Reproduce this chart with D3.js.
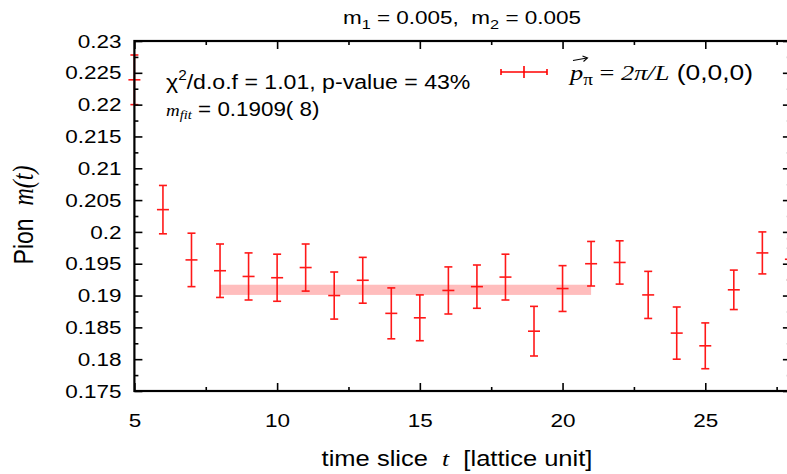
<!DOCTYPE html>
<html>
<head>
<meta charset="utf-8">
<script src="https://cdn.jsdelivr.net/npm/d3@7"></script>
<style>
  body { margin: 0; background: #fff; }
  svg { display: block; }
  text { white-space: pre; }
</style>
</head>
<body>
<svg id="chart" width="787" height="474"></svg>
<script>
// time slices and effective pion mass with errors
var tValues = [5, 6, 7, 8, 9, 10, 11, 12, 13, 14, 15, 16, 17, 18, 19, 20, 21, 22, 23, 24, 25, 26, 27, 28];
var mValues = [0.2239, 0.2035, 0.1956, 0.1939, 0.1930, 0.1928, 0.1944, 0.1900, 0.1924, 0.1872, 0.1865, 0.1908,
               0.1914, 0.1929, 0.1844, 0.1911, 0.1950, 0.1952, 0.1901, 0.1841, 0.1821, 0.1909, 0.1967, 0.1957];
var mErrors = [0.0039, 0.0038, 0.0042, 0.0042, 0.0037, 0.0037, 0.0037, 0.0037, 0.0036, 0.0040, 0.0036, 0.0037,
               0.0034, 0.0036, 0.0039, 0.0036, 0.0035, 0.0034, 0.0037, 0.0041, 0.0036, 0.0031, 0.0033, 0.0032];

// constant fit
var fitRange = [8, 21];
var fitValue = 0.1909;
var fitError = 0.0008;

// ticks
var xTicks = [5, 10, 15, 20, 25];
var xMinorTicks = [7.5, 12.5, 17.5, 22.5, 27.5];
var yTicks = [0.175, 0.18, 0.185, 0.19, 0.195, 0.2, 0.205, 0.21, 0.215, 0.22, 0.225, 0.23];
var yMinorTicks = [0.1775, 0.1825, 0.1875, 0.1925, 0.1975, 0.2025, 0.2075, 0.2125, 0.2175, 0.2225, 0.2275];

(function () {

    var data = tValues.map(function (t, i) {
        return {t: t, m: mValues[i], err: mErrors[i]};
    });

    var svg = d3.select("#chart");
    var pLeft = 134.4, pRight = 790.9, pTop = 41, pBottom = 391;
    var sx = 1.25; // horizontal stretch of text in the original

    var x = d3.scaleLinear().domain([5, 28]).range([pLeft, pRight]);
    var y = d3.scaleLinear().domain([0.175, 0.23]).range([pBottom, pTop]);

    var sans = "'Liberation Sans', Arial, Helvetica, sans-serif";
    var serif = "'Liberation Serif', 'Times New Roman', serif";

    // fit band
    svg.append("rect")
        .attr("x", x(fitRange[0]))
        .attr("y", y(fitValue + fitError))
        .attr("width", x(fitRange[1]) - x(fitRange[0]))
        .attr("height", y(fitValue - fitError) - y(fitValue + fitError))
        .style("fill", "#ffbdbd");

    // error bars
    var red = "#ff0000";
    var capW = 4, markW = 6;
    var pts = svg.selectAll(".pt").data(data).enter().append("g")
        .classed("pt", true)
        .style("stroke", red).style("stroke-width", 1.6).style("opacity", 0.9);

    pts.append("line")
        .attr("x1", function (d) { return x(d.t); })
        .attr("x2", function (d) { return x(d.t); })
        .attr("y1", function (d) { return y(d.m - d.err); })
        .attr("y2", function (d) { return y(d.m + d.err); });
    pts.append("line")
        .attr("x1", function (d) { return x(d.t) - capW; })
        .attr("x2", function (d) { return x(d.t) + capW; })
        .attr("y1", function (d) { return y(d.m + d.err); })
        .attr("y2", function (d) { return y(d.m + d.err); });
    pts.append("line")
        .attr("x1", function (d) { return x(d.t) - capW; })
        .attr("x2", function (d) { return x(d.t) + capW; })
        .attr("y1", function (d) { return y(d.m - d.err); })
        .attr("y2", function (d) { return y(d.m - d.err); });
    pts.append("line")
        .attr("x1", function (d) { return x(d.t) - markW; })
        .attr("x2", function (d) { return x(d.t) + markW; })
        .attr("y1", function (d) { return y(d.m); })
        .attr("y2", function (d) { return y(d.m); });

    // axes (ticks point inwards on all four sides)
    function styleAxis(g) {
        g.select(".domain").remove();
        g.selectAll("line").style("stroke", "#000").style("stroke-width", 1.6);
    }

    svg.append("g").attr("transform", "translate(" + pLeft + ",0)")
        .call(d3.axisLeft(y).tickValues(yTicks).tickSizeInner(-8).tickSizeOuter(0).tickPadding(13).tickFormat(function (d) { return String(d); }))
        .call(styleAxis)
        .call(function (g) {
            g.selectAll("text")
                .attr("x", -13 / sx)
                .attr("dy", "0.34em")
                .attr("transform", "scale(" + sx + ",1)")
                .style("font", "18px " + sans)
                .style("fill", "#000");
        });
    svg.append("g").attr("transform", "translate(" + pLeft + ",0)")
        .call(d3.axisLeft(y).tickValues(yMinorTicks).tickSizeInner(-4).tickSizeOuter(0).tickFormat(""))
        .call(styleAxis);

    svg.append("g").attr("transform", "translate(" + pRight + ",0)")
        .call(d3.axisRight(y).tickValues(yTicks).tickSizeInner(-8).tickSizeOuter(0).tickFormat(""))
        .call(styleAxis);
    svg.append("g").attr("transform", "translate(" + pRight + ",0)")
        .call(d3.axisRight(y).tickValues(yMinorTicks).tickSizeInner(-4).tickSizeOuter(0).tickFormat(""))
        .call(styleAxis);

    svg.append("g").attr("transform", "translate(0," + pBottom + ")")
        .call(d3.axisBottom(x).tickValues(xTicks).tickSizeInner(-8).tickSizeOuter(0).tickFormat(d3.format("d")))
        .call(styleAxis)
        .call(function (g) {
            g.selectAll("text")
                .attr("y", 36)
                .attr("dy", 0)
                .attr("transform", "scale(" + sx + ",1)")
                .style("font", "18px " + sans)
                .style("fill", "#000");
        });
    svg.append("g").attr("transform", "translate(0," + pBottom + ")")
        .call(d3.axisBottom(x).tickValues(xMinorTicks).tickSizeInner(-4).tickSizeOuter(0).tickFormat(""))
        .call(styleAxis);

    svg.append("g").attr("transform", "translate(0," + pTop + ")")
        .call(d3.axisTop(x).tickValues(xTicks).tickSizeInner(-8).tickSizeOuter(0).tickFormat(""))
        .call(styleAxis);
    svg.append("g").attr("transform", "translate(0," + pTop + ")")
        .call(d3.axisTop(x).tickValues(xMinorTicks).tickSizeInner(-4).tickSizeOuter(0).tickFormat(""))
        .call(styleAxis);

    // frame, drawn over the error bars
    svg.append("rect")
        .attr("x", pLeft).attr("y", pTop)
        .attr("width", pRight - pLeft).attr("height", pBottom - pTop)
        .style("fill", "none").style("stroke", "#000").style("stroke-width", 2.2);

    // helper for stretched text
    function addText(px, py, scaleX) {
        return svg.append("text")
            .attr("transform", "translate(" + px + "," + py + ") scale(" + scaleX + ",1)")
            .style("fill", "#000");
    }

    // title
    var title = addText(462, 24, sx).style("font", "18px " + sans).attr("text-anchor", "middle");
    title.append("tspan").text("m");
    title.append("tspan").attr("dy", 5).style("font-size", "13px").text("1");
    title.append("tspan").attr("dy", -5).text(" = 0.005,  m");
    title.append("tspan").attr("dy", 5).style("font-size", "13px").text("2");
    title.append("tspan").attr("dy", -5).text(" = 0.005");

    // chi2 annotation
    var chi = addText(166, 89, 1.1).style("font", "21px " + sans);
    chi.append("tspan").text("\u03c7");
    chi.append("tspan").attr("dy", -9).style("font-size", "14px").text("2");
    chi.append("tspan").attr("dy", 9).text("/d.o.f = 1.01, p-value = 43%");

    var mfit = addText(166, 116, 1.12).style("font", "20px " + sans);
    mfit.append("tspan").style("font-family", serif).style("font-style", "italic").style("font-size", "17px").text("m");
    mfit.append("tspan").attr("dy", 3).style("font-family", serif).style("font-style", "italic").style("font-size", "13px").text("fit");
    mfit.append("tspan").attr("dy", -3).text(" = 0.1909( 8)");

    // legend sample
    var lg = svg.append("g").style("stroke", red).style("stroke-width", 1.6);
    lg.append("line").attr("x1", 501).attr("x2", 547).attr("y1", 72).attr("y2", 72);
    lg.append("line").attr("x1", 501).attr("x2", 501).attr("y1", 69).attr("y2", 75);
    lg.append("line").attr("x1", 547).attr("x2", 547).attr("y1", 69).attr("y2", 75);
    lg.append("line").attr("x1", 524).attr("x2", 524).attr("y1", 66).attr("y2", 78);

    var leg = addText(570, 80, 1.2).style("font", "22px " + serif);
    leg.append("tspan").style("font-style", "italic").text("p");
    leg.append("tspan").attr("dy", 5).style("font-size", "16px").text("\u03c0");
    leg.append("tspan").attr("dy", -5).text(" = ");
    leg.append("tspan").style("font-style", "italic").text("2\u03c0/L");
    leg.append("tspan").style("font-family", sans).text(" (0,0,0)");
    // vector arrow over p
    var arrow = svg.append("g").style("stroke", "#000").style("stroke-width", 1.1).style("fill", "none");
    arrow.append("path").attr("d", "M573,60.5 L587,58");
    arrow.append("path").attr("d", "M582.5,56 L587.5,58 L583.5,61.5");

    // axis titles
    var xt = addText(457, 466, 1.16).style("font", "22px " + sans).attr("text-anchor", "middle");
    xt.append("tspan").text("time slice  ");
    xt.append("tspan").style("font-family", serif).style("font-style", "italic").text("t");
    xt.append("tspan").text("  [lattice unit]");

    var yt = svg.append("text")
        .attr("transform", "translate(33,215) rotate(-90) scale(1,1.22)")
        .attr("text-anchor", "middle")
        .style("font", "23px " + sans).style("fill", "#000");
    yt.append("tspan").text("Pion  ");
    yt.append("tspan").style("font-family", serif).style("font-style", "italic").style("font-size", "24px").text("m(t)");

})();
</script>
</body>
</html>
